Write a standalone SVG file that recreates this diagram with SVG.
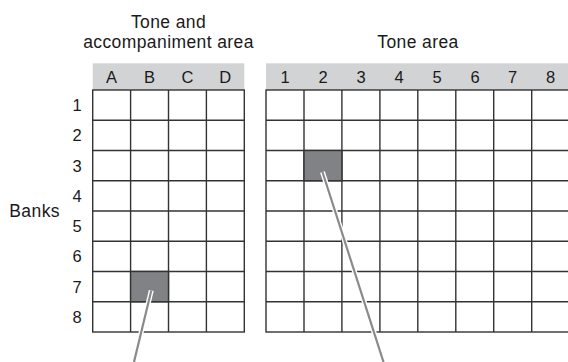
<svg xmlns="http://www.w3.org/2000/svg" width="568" height="362" viewBox="0 0 568 362">
<style>
.lbl{font-family:"Liberation Sans",Arial,sans-serif;font-size:17.5px;letter-spacing:0.4px;fill:#1a1a1a}
.num{font-family:"Liberation Sans",Arial,sans-serif;font-size:16.5px;fill:#1a1a1a;text-anchor:middle}
.hdr{fill:#d2d3d5}
.cell{fill:#fff;stroke:#333;stroke-width:1.4}
.hi{fill:#818285;stroke:#333;stroke-width:1.4}
.halo{stroke:#fff;stroke-width:5;stroke-linecap:butt;fill:none}
.lead{stroke:#8a8a8c;stroke-width:2.2;stroke-linecap:butt;fill:none}
</style>
<rect width="568" height="362" fill="#fff"/>
<g id="labels">
<text class="lbl" x="168.5" y="27.5" text-anchor="middle">Tone and</text>
<text class="lbl" x="168.5" y="48" text-anchor="middle">accompaniment area</text>
<text class="lbl" x="418" y="48.3" text-anchor="middle">Tone area</text>
<text class="lbl" x="9.3" y="216.7">Banks</text>
<text class="num" x="77" y="111">1</text>
<text class="num" x="77" y="141">2</text>
<text class="num" x="77" y="171.5">3</text>
<text class="num" x="77" y="202">4</text>
<text class="num" x="77" y="232">5</text>
<text class="num" x="77" y="262">6</text>
<text class="num" x="77" y="292.5">7</text>
<text class="num" x="77" y="322.5">8</text>
</g>
<g id="tone-accompaniment-area">
<rect class="hdr" x="92.7" y="63.3" width="151.6" height="26.7"/>
<text class="num" x="111.6" y="82.8">A</text>
<text class="num" x="149.5" y="82.8">B</text>
<text class="num" x="187.4" y="82.8">C</text>
<text class="num" x="225.3" y="82.8">D</text>
<rect class="cell" x="92.7" y="90" width="151.6" height="242"/>
<path d="M130.6 90V332M168.5 90V332M206.4 90V332M92.7 120.25H244.3M92.7 150.5H244.3M92.7 180.75H244.3M92.7 211H244.3M92.7 241.25H244.3M92.7 271.5H244.3M92.7 301.75H244.3" stroke="#333" stroke-width="1.4" fill="none"/>
<rect id="cell-B7" class="hi" x="130.6" y="271.5" width="37.9" height="30.25"/>
</g>
<g id="tone-area">
<rect class="hdr" x="266" y="63.3" width="304" height="26.7"/>
<text class="num" x="285" y="82.8">1</text>
<text class="num" x="323" y="82.8">2</text>
<text class="num" x="361" y="82.8">3</text>
<text class="num" x="399" y="82.8">4</text>
<text class="num" x="437" y="82.8">5</text>
<text class="num" x="475" y="82.8">6</text>
<text class="num" x="512.7" y="82.8">7</text>
<text class="num" x="550.6" y="82.8">8</text>
<rect class="cell" x="266" y="90" width="303.6" height="242"/>
<path d="M304 90V332M341.9 90V332M379.9 90V332M417.8 90V332M455.8 90V332M493.7 90V332M531.7 90V332M266 120.25H570M266 150.5H570M266 180.75H570M266 211H570M266 241.25H570M266 271.5H570M266 301.75H570" stroke="#333" stroke-width="1.4" fill="none"/>
<rect id="cell-2-3" class="hi" x="304" y="150.5" width="37.9" height="30.25"/>
</g>
<g id="connectors">
<path class="halo" d="M151.3 290.5L134 362"/>
<path class="lead" d="M151.3 290.5L134 362"/>
<path class="halo" d="M322.5 172L383.5 362"/>
<path class="lead" d="M322.5 172L383.5 362"/>
</g>
</svg>
